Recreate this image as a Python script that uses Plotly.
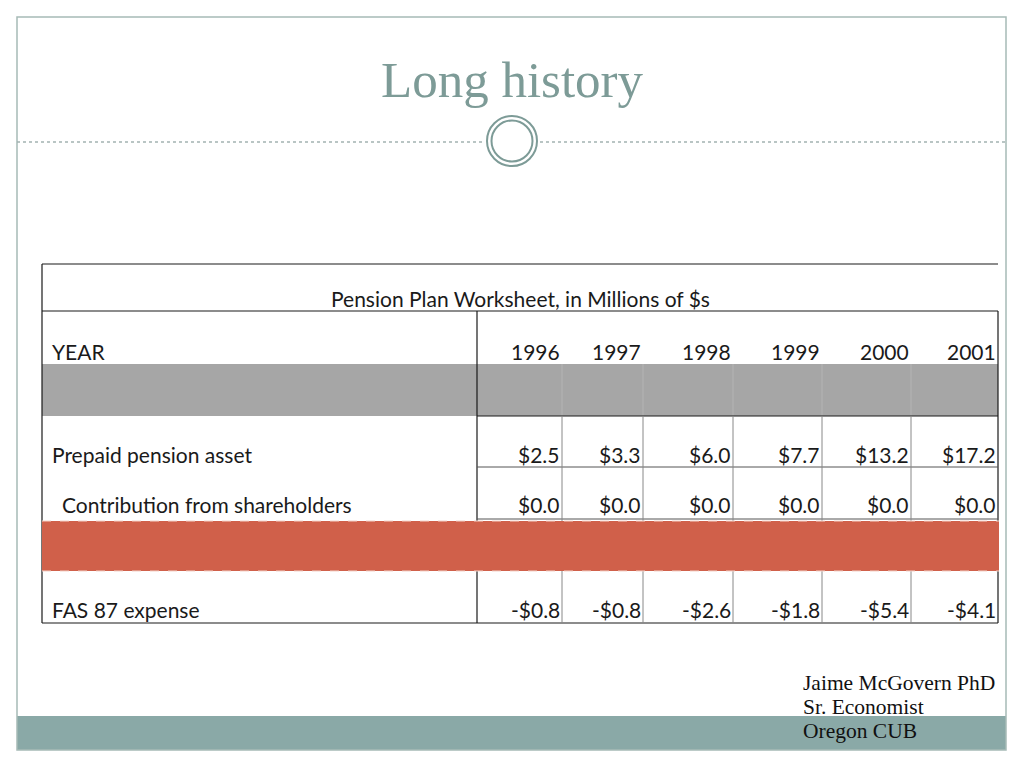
import plotly.graph_objects as go

# ---------------- data ----------------
title = "Long history"
table_title = "Pension Plan Worksheet, in Millions of $s"
year_label = "YEAR"
years = ["1996", "1997", "1998", "1999", "2000", "2001"]
row_labels = ["Prepaid pension asset", "Contribution from shareholders", "FAS 87 expense"]
prepaid = [2.5, 3.3, 6.0, 7.7, 13.2, 17.2]
contribution = [0.0, 0.0, 0.0, 0.0, 0.0, 0.0]
fas87 = [-0.8, -0.8, -2.6, -1.8, -5.4, -4.1]
footer = ["Jaime McGovern PhD", "Sr. Economist", "Oregon CUB"]

# ---------------- layout constants ----------------
W, H = 1024, 768
TBL_L, TBL_R = 42, 998
LABEL_COL_R = 477
col_edges = [477, 562, 643, 733, 822, 911, 998]
Y_TOP, Y_T1 = 264, 311
Y_GRAY0, Y_GRAY1 = 364, 416
Y_R1, Y_R2 = 467, 519
Y_OR0, Y_OR1 = 521, 571
Y_BOT = 623
row_centers = {"title": 298, "year": 351, "r0": 454, "r1": 504, "r2": 609}

SANS = "Lato"
SERIF = "Liberation Serif"
TEAL = "#7d9b97"


def fmt(v):
    return ("-$%.1f" % abs(v)) if v < 0 else ("$%.1f" % v)


shapes = []
ann = []


def line(x0, y0, x1, y1, color, width=1, dash=None):
    d = dict(type="line", xref="x", yref="y", x0=x0, y0=y0, x1=x1, y1=y1,
             line=dict(color=color, width=width), layer="above")
    if dash:
        d["line"]["dash"] = dash
    shapes.append(d)


def rect(x0, y0, x1, y1, fill, lc=None, lw=0, dash=None, layer="above"):
    d = dict(type="rect", xref="x", yref="y", x0=x0, y0=y0, x1=x1, y1=y1,
             fillcolor=fill, line=dict(width=lw, color=lc or fill), layer=layer)
    if dash:
        d["line"]["dash"] = dash
    shapes.append(d)


def text(x, y, s, size, color="#1a1a1a", family=SANS, xanchor="left"):
    ann.append(dict(x=x, y=y, xref="x", yref="y", text=s, showarrow=False,
                    xanchor=xanchor, yanchor="middle", borderpad=0,
                    font=dict(size=size, color=color, family=family)))


# ---------------- slide decoration ----------------
rect(17, 716, 1006, 750, "#8aa9a7")
rect(17, 17, 1006, 750, "rgba(0,0,0,0)", lc="#a7bab7", lw=1.5)
line(17, 142, 485, 142, "#a3b3b1", 1.5, "dot")
line(540, 142, 1006, 142, "#a3b3b1", 1.5, "dot")
shapes.append(dict(type="circle", xref="x", yref="y", x0=487, y0=116, x1=537, y1=166,
                   line=dict(color=TEAL, width=2), fillcolor="white", layer="above"))
shapes.append(dict(type="circle", xref="x", yref="y", x0=491.5, y0=120.5, x1=532.5, y1=161.5,
                   line=dict(color=TEAL, width=2), fillcolor="white", layer="above"))
text(512, 80, title, 51, color=TEAL, family=SERIF, xanchor="center")

# ---------------- table bands ----------------
rect(TBL_L, Y_GRAY0, TBL_R, Y_GRAY1, "#a6a6a6")
for x in col_edges[1:-1]:
    line(x, Y_GRAY0, x, Y_GRAY1, "#b4b4b4", 1)

# ---------------- table lines ----------------
line(TBL_L, Y_TOP, TBL_R, Y_TOP, "#1a1a1a", 1.2)
line(TBL_L, Y_T1, TBL_R, Y_T1, "#1a1a1a", 1.2)
line(TBL_L, Y_TOP, TBL_L, Y_BOT, "#1a1a1a", 1.2)
line(TBL_R, Y_T1, TBL_R, Y_BOT, "#1a1a1a", 1.2)
line(LABEL_COL_R, Y_T1, LABEL_COL_R, Y_BOT, "#1a1a1a", 1.2)
line(LABEL_COL_R, Y_GRAY1, TBL_R, Y_GRAY1, "#1a1a1a", 1.2)
line(LABEL_COL_R, Y_R1, TBL_R, Y_R1, "#555555", 1)
line(LABEL_COL_R, Y_R2, TBL_R, Y_R2, "#555555", 1)
line(TBL_L, Y_BOT, TBL_R, Y_BOT, "#1a1a1a", 1.2)
for x in col_edges[1:-1]:
    line(x, Y_GRAY1, x, Y_BOT, "#888888", 1)

# orange highlight band covers the grid
rect(TBL_L, Y_OR0, TBL_R + 1, Y_OR1, "#d0604a")
line(TBL_L, Y_OR0, TBL_R + 1, Y_OR0, "#f3d2c8", 1, "dash")
line(TBL_L, Y_OR1, TBL_R + 1, Y_OR1, "#f3d2c8", 1, "dash")

# ---------------- table text ----------------
FS = 21
text((TBL_L + TBL_R) / 2 + 0, row_centers["title"], table_title, FS, xanchor="center")
text(51, row_centers["year"], year_label, FS)
text(51, row_centers["r0"], row_labels[0], FS)
text(61, row_centers["r1"], row_labels[1], FS)
text(51, row_centers["r2"], row_labels[2], FS)

series = [("year", years), ("r0", [fmt(v) for v in prepaid]),
          ("r1", [fmt(v) for v in contribution]), ("r2", [fmt(v) for v in fas87])]
for key, vals in series:
    for i, s in enumerate(vals):
        text(col_edges[i + 1] - 1, row_centers[key], s, FS, xanchor="right")

# ---------------- footer ----------------
for i, s in enumerate(footer):
    text(802, 683 + 24 * i, s, 21.5, color="#111111", family=SERIF)

fig = go.Figure()
fig.add_trace(go.Scatter(x=[0, W], y=[0, H], mode="markers", marker=dict(opacity=0),
                         hoverinfo="skip", showlegend=False))
fig.update_layout(
    width=W, height=H, margin=dict(l=0, r=0, t=0, b=0),
    paper_bgcolor="white", plot_bgcolor="white",
    xaxis=dict(range=[0, W], visible=False, fixedrange=True),
    yaxis=dict(range=[H, 0], visible=False, fixedrange=True),
    shapes=shapes, annotations=ann, showlegend=False,
)
fig.write_html("out.html", config={"displayModeBar": False},
               post_script="document.body.style.margin='0';document.body.style.overflow='hidden';")
